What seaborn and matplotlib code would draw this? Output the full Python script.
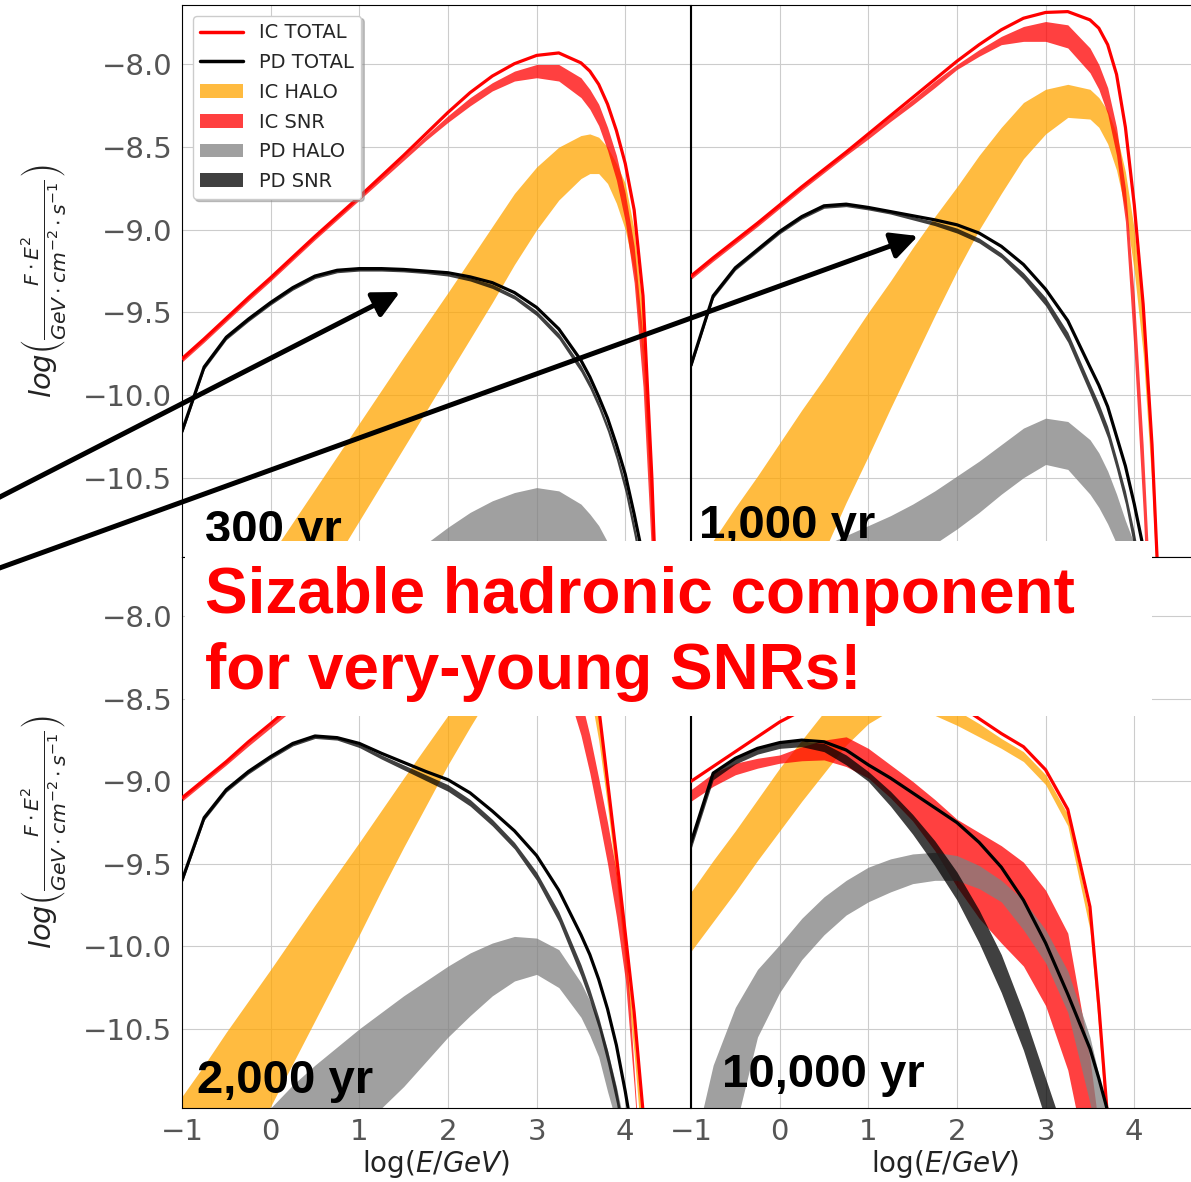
import matplotlib
matplotlib.use("Agg")
import matplotlib.pyplot as plt
import seaborn as sns
from matplotlib.patches import Rectangle, Patch, FancyArrowPatch
from matplotlib.lines import Line2D

# ---------------- data (log10 E/GeV grid, log10 of E^2 F) ----------------
log_e = [-1, -0.75, -0.5, -0.25, 0,
         0.25, 0.5, 0.75, 1, 1.25,
         1.5, 1.75, 2, 2.25, 2.5,
         2.75, 3, 3.25, 3.5, 3.6,
         3.7, 3.8, 3.9, 4.0, 4.1,
         4.2, 4.3, 4.4, 4.5]

# 300 yr
ic_total_300 = [-9.78, -9.66, -9.535, -9.41, -9.29,
                -9.165, -9.04, -8.92, -8.80, -8.675,
                -8.55, -8.42, -8.29, -8.17, -8.07,
                -7.995, -7.945, -7.93, -7.99, -8.04,
                -8.12, -8.24, -8.40, -8.60, -8.88,
                -9.40, -10.50, -12.0, -13.0]
ic_snr_hi_300 = [-9.78, -9.66, -9.535, -9.41, -9.29,
                 -9.165, -9.04, -8.92, -8.80, -8.675,
                 -8.555, -8.43, -8.31, -8.20, -8.11,
                 -8.04, -8.00, -8.00, -8.08, -8.15,
                 -8.24, -8.38, -8.55, -8.78, -9.10,
                 -9.65, -10.6, -12.0, -13.0]
ic_snr_lo_300 = [-9.80, -9.68, -9.555, -9.43, -9.31,
                 -9.185, -9.06, -8.94, -8.82, -8.70,
                 -8.58, -8.46, -8.35, -8.25, -8.16,
                 -8.10, -8.08, -8.10, -8.20, -8.27,
                 -8.37, -8.52, -8.70, -8.95, -9.32,
                 -9.95, -11.0, -12.5, -13.0]
ic_halo_hi_300 = [-11.77, -11.57, -11.37, -11.17, -10.97,
                  -10.77, -10.57, -10.37, -10.17, -9.97,
                  -9.77, -9.575, -9.38, -9.18, -8.98,
                  -8.78, -8.62, -8.50, -8.43, -8.42,
                  -8.44, -8.50, -8.60, -8.72, -9.00,
                  -9.50, -10.5, -12.0, -13.0]
ic_halo_lo_300 = [-12.52, -12.30, -12.08, -11.86, -11.64,
                  -11.42, -11.20, -10.98, -10.76, -10.54,
                  -10.32, -10.10, -9.88, -9.66, -9.44,
                  -9.21, -9.00, -8.82, -8.69, -8.66,
                  -8.66, -8.72, -8.84, -9.00, -9.25,
                  -9.80, -10.8, -12.2, -13.0]
pd_total_300 = [-10.22, -9.83, -9.65, -9.54, -9.44,
                -9.35, -9.28, -9.245, -9.235, -9.235,
                -9.24, -9.25, -9.26, -9.285, -9.32,
                -9.38, -9.47, -9.60, -9.79, -9.89,
                -10.01, -10.14, -10.30, -10.48, -10.72,
                -10.98, -11.5, -12.0, -13.0]
pd_snr_hi_300 = [-10.22, -9.83, -9.65, -9.54, -9.44,
                 -9.35, -9.28, -9.245, -9.235, -9.235,
                 -9.24, -9.25, -9.265, -9.29, -9.33,
                 -9.395, -9.49, -9.625, -9.82, -9.92,
                 -10.04, -10.18, -10.34, -10.53, -10.78,
                 -11.05, -11.6, -12.1, -13.0]
pd_snr_lo_300 = [-10.235, -9.845, -9.665, -9.555, -9.455,
                 -9.365, -9.295, -9.26, -9.25, -9.25,
                 -9.255, -9.265, -9.28, -9.31, -9.355,
                 -9.42, -9.52, -9.66, -9.86, -9.96,
                 -10.08, -10.22, -10.39, -10.59, -10.85,
                 -11.14, -11.7, -12.2, -13.0]
pd_halo_hi_300 = [-12.5, -12.35, -12.2, -12.05, -11.9,
                  -11.72, -11.55, -11.4, -11.25, -11.13,
                  -11.02, -10.9, -10.8, -10.71, -10.64,
                  -10.59, -10.56, -10.58, -10.66, -10.72,
                  -10.79, -10.89, -11.0, -11.15, -11.35,
                  -11.6, -12.0, -12.5, -13.0]
pd_halo_lo_300 = [-13.0, -12.8, -12.6, -12.4, -12.25,
                  -12.07, -11.9, -11.75, -11.6, -11.49,
                  -11.38, -11.26, -11.15, -11.06, -10.98,
                  -10.92, -10.88, -10.9, -11.0, -11.06,
                  -11.14, -11.24, -11.36, -11.5, -11.7,
                  -12.0, -12.4, -12.8, -13.0]

# 1,000 yr
ic_total_1000 = [-9.28, -9.17, -9.065, -8.96, -8.85,
                 -8.74, -8.635, -8.53, -8.42, -8.31,
                 -8.20, -8.09, -7.98, -7.88, -7.79,
                 -7.72, -7.685, -7.68, -7.73, -7.78,
                 -7.88, -8.06, -8.38, -8.85, -9.45,
                 -10.3, -11.5, -12.5, -13.0]
ic_snr_hi_1000 = [-9.28, -9.17, -9.065, -8.96, -8.85,
                  -8.74, -8.635, -8.53, -8.425, -8.315,
                  -8.21, -8.10, -8.00, -7.91, -7.83,
                  -7.77, -7.74, -7.76, -7.90, -8.00,
                  -8.14, -8.38, -8.75, -9.40, -10.30,
                  -11.4, -12.5, -13.0, -13.0]
ic_snr_lo_1000 = [-9.30, -9.19, -9.085, -8.98, -8.87,
                  -8.76, -8.655, -8.55, -8.45, -8.345,
                  -8.245, -8.14, -8.03, -7.95, -7.88,
                  -7.86, -7.86, -7.90, -8.05, -8.15,
                  -8.30, -8.55, -8.95, -9.75, -10.7,
                  -11.8, -13.0, -13.0, -13.0]
ic_halo_hi_1000 = [-11.08, -10.88, -10.68, -10.49, -10.29,
                   -10.09, -9.90, -9.70, -9.50, -9.31,
                   -9.11, -8.92, -8.74, -8.55, -8.38,
                   -8.23, -8.15, -8.12, -8.15, -8.20,
                   -8.28, -8.42, -8.65, -9.00, -9.50,
                   -10.3, -11.5, -12.5, -13.0]
ic_halo_lo_1000 = [-12.70, -12.40, -12.10, -11.82, -11.55,
                   -11.25, -10.95, -10.65, -10.37, -10.08,
                   -9.80, -9.52, -9.25, -9.00, -8.78,
                   -8.57, -8.42, -8.32, -8.33, -8.38,
                   -8.48, -8.64, -8.88, -9.25, -9.75,
                   -10.55, -11.7, -12.7, -13.0]
pd_total_1000 = [-9.82, -9.40, -9.23, -9.12, -9.01,
                 -8.92, -8.855, -8.845, -8.865, -8.89,
                 -8.915, -8.94, -8.97, -9.02, -9.10,
                 -9.21, -9.36, -9.55, -9.83, -9.94,
                 -10.07, -10.25, -10.43, -10.66, -10.92,
                 -11.3, -11.8, -12.5, -13.0]
pd_snr_hi_1000 = [-9.82, -9.40, -9.23, -9.12, -9.01,
                  -8.92, -8.855, -8.845, -8.865, -8.89,
                  -8.92, -8.95, -8.99, -9.05, -9.14,
                  -9.26, -9.41, -9.62, -9.93, -10.05,
                  -10.19, -10.38, -10.58, -10.83, -11.12,
                  -11.6, -12.1, -13.0, -13.0]
pd_snr_lo_1000 = [-9.835, -9.415, -9.245, -9.135, -9.025,
                  -8.935, -8.87, -8.86, -8.88, -8.905,
                  -8.94, -8.975, -9.02, -9.08, -9.17,
                  -9.30, -9.46, -9.68, -9.99, -10.12,
                  -10.26, -10.45, -10.66, -10.93, -11.23,
                  -11.7, -12.2, -13.0, -13.0]
pd_halo_hi_1000 = [-11.80, -11.62, -11.45, -11.28, -11.12,
                   -11.00, -10.91, -10.85, -10.79, -10.73,
                   -10.66, -10.58, -10.49, -10.40, -10.30,
                   -10.20, -10.14, -10.16, -10.27, -10.35,
                   -10.46, -10.60, -10.76, -10.90, -11.10,
                   -11.4, -11.8, -12.5, -13.0]
pd_halo_lo_1000 = [-12.50, -12.30, -12.10, -11.92, -11.76,
                   -11.60, -11.42, -11.30, -11.20, -11.10,
                   -10.99, -10.90, -10.81, -10.71, -10.60,
                   -10.50, -10.42, -10.45, -10.60, -10.68,
                   -10.78, -10.90, -11.05, -11.20, -11.40,
                   -11.7, -12.1, -12.6, -13.0]

# 2,000 yr
ic_total_2000 = [-9.10, -8.99, -8.88, -8.76, -8.65,
                 -8.535, -8.42, -8.31, -8.20, -8.09,
                 -7.99, -7.90, -7.82, -7.76, -7.71,
                 -7.68, -7.68, -7.75, -7.98, -8.15,
                 -8.55, -9.00, -9.45, -9.92, -10.40,
                 -11.0, -11.8, -13.0, -13.0]
ic_snr_hi_2000 = [-9.10, -8.99, -8.88, -8.765, -8.655,
                  -8.54, -8.43, -8.325, -8.22, -8.12,
                  -8.03, -7.96, -7.90, -7.85, -7.82,
                  -7.83, -7.90, -8.08, -8.50, -8.72,
                  -8.98, -9.25, -9.55, -9.92, -10.75,
                  -11.6, -12.5, -13.0, -13.0]
ic_snr_lo_2000 = [-9.12, -9.01, -8.90, -8.785, -8.675,
                  -8.565, -8.455, -8.355, -8.255, -8.165,
                  -8.09, -8.03, -7.98, -7.95, -7.95,
                  -8.00, -8.10, -8.28, -8.72, -8.95,
                  -9.22, -9.50, -9.82, -10.20, -10.85,
                  -11.6, -12.5, -13.0, -13.0]
ic_halo_hi_2000 = [-10.91, -10.72, -10.52, -10.33, -10.14,
                   -9.945, -9.75, -9.56, -9.37, -9.175,
                   -8.98, -8.79, -8.60, -8.42, -8.25,
                   -8.09, -7.97, -7.90, -8.05, -8.25,
                   -8.60, -9.03, -9.50, -9.98, -10.50,
                   -11.1, -12.0, -13.0, -13.0]
ic_halo_lo_2000 = [-12.00, -11.75, -11.50, -11.23, -10.97,
                   -10.71, -10.45, -10.19, -9.93, -9.66,
                   -9.40, -9.15, -8.90, -8.67, -8.45,
                   -8.28, -8.16, -8.10, -8.25, -8.45,
                   -8.75, -9.15, -9.60, -10.10, -10.65,
                   -11.3, -12.2, -13.0, -13.0]
pd_total_2000 = [-9.60, -9.22, -9.05, -8.94, -8.85,
                 -8.77, -8.725, -8.735, -8.77, -8.83,
                 -8.885, -8.94, -8.99, -9.07, -9.18,
                 -9.30, -9.45, -9.66, -9.93, -10.05,
                 -10.20, -10.38, -10.60, -10.88, -11.20,
                 -11.6, -12.1, -13.0, -13.0]
pd_snr_hi_2000 = [-9.60, -9.22, -9.05, -8.94, -8.85,
                  -8.77, -8.725, -8.735, -8.775, -8.84,
                  -8.90, -8.96, -9.02, -9.11, -9.23,
                  -9.37, -9.55, -9.79, -10.11, -10.26,
                  -10.43, -10.63, -10.86, -11.15, -11.5,
                  -12.0, -12.5, -13.0, -13.0]
pd_snr_lo_2000 = [-9.615, -9.235, -9.065, -8.955, -8.865,
                  -8.785, -8.74, -8.75, -8.795, -8.865,
                  -8.93, -8.995, -9.06, -9.15, -9.27,
                  -9.41, -9.60, -9.85, -10.18, -10.33,
                  -10.50, -10.71, -10.95, -11.25, -11.6,
                  -12.1, -12.6, -13.0, -13.0]
pd_halo_hi_2000 = [-11.80, -11.60, -11.40, -11.19, -10.98,
                   -10.84, -10.72, -10.61, -10.50, -10.40,
                   -10.30, -10.21, -10.12, -10.04, -9.98,
                   -9.94, -9.95, -10.02, -10.22, -10.33,
                   -10.45, -10.63, -10.85, -11.10, -11.35,
                   -11.6, -12.0, -12.5, -13.0]
pd_halo_lo_2000 = [-12.80, -12.50, -12.20, -11.95, -11.70,
                   -11.50, -11.30, -11.20, -11.10, -10.98,
                   -10.85, -10.70, -10.55, -10.42, -10.30,
                   -10.21, -10.17, -10.25, -10.43, -10.54,
                   -10.67, -10.88, -11.07, -11.25, -11.50,
                   -11.8, -12.3, -12.8, -13.0]

# 10,000 yr
ic_total_10000 = [-9.00, -8.91, -8.82, -8.73, -8.64,
                  -8.57, -8.50, -8.43, -8.36, -8.33,
                  -8.36, -8.44, -8.53, -8.62, -8.71,
                  -8.79, -8.93, -9.17, -9.76, -10.36,
                  -11.05, -11.8, -12.5, -13.0, -13.0,
                  -13.0, -13.0, -13.0, -13.0]
ic_snr_hi_10000 = [-9.05, -8.95, -8.89, -8.86, -8.84,
                   -8.79, -8.75, -8.73, -8.80, -8.90,
                   -9.00, -9.11, -9.23, -9.31, -9.39,
                   -9.49, -9.66, -9.92, -10.68, -11.1,
                   -11.6, -12.3, -13.0, -13.0, -13.0,
                   -13.0, -13.0, -13.0, -13.0]
ic_snr_lo_10000 = [-9.12, -9.03, -8.96, -8.92, -8.89,
                   -8.875, -8.87, -8.91, -8.98, -9.10,
                   -9.24, -9.42, -9.64, -9.83, -9.98,
                   -10.12, -10.36, -10.75, -11.4, -11.9,
                   -12.5, -13.0, -13.0, -13.0, -13.0,
                   -13.0, -13.0, -13.0, -13.0]
ic_halo_hi_10000 = [-9.67, -9.48, -9.30, -9.11, -8.92,
                    -8.75, -8.58, -8.46, -8.40, -8.37,
                    -8.40, -8.48, -8.57, -8.65, -8.74,
                    -8.82, -8.96, -9.20, -9.82, -10.42,
                    -11.1, -11.9, -12.6, -13.0, -13.0,
                    -13.0, -13.0, -13.0, -13.0]
ic_halo_lo_10000 = [-10.03, -9.85, -9.67, -9.48, -9.30,
                    -9.12, -8.95, -8.78, -8.65, -8.57,
                    -8.56, -8.60, -8.66, -8.73, -8.80,
                    -8.88, -9.02, -9.27, -9.90, -10.5,
                    -11.2, -12.0, -12.7, -13.0, -13.0,
                    -13.0, -13.0, -13.0, -13.0]
pd_total_10000 = [-9.37, -8.95, -8.86, -8.80, -8.765,
                  -8.75, -8.76, -8.81, -8.90, -8.98,
                  -9.07, -9.16, -9.25, -9.37, -9.52,
                  -9.72, -9.98, -10.29, -10.62, -10.80,
                  -11.0, -11.3, -11.6, -12.0, -12.5,
                  -13.0, -13.0, -13.0, -13.0]
pd_snr_hi_10000 = [-9.37, -8.95, -8.86, -8.80, -8.765,
                   -8.755, -8.77, -8.84, -8.94, -9.06,
                   -9.20, -9.36, -9.55, -9.78, -10.05,
                   -10.40, -10.80, -11.20, -11.70, -11.9,
                   -12.1, -12.3, -12.6, -13.0, -13.0,
                   -13.0, -13.0, -13.0, -13.0]
pd_snr_lo_10000 = [-9.41, -8.99, -8.895, -8.835, -8.80,
                   -8.79, -8.82, -8.90, -9.00, -9.15,
                   -9.32, -9.51, -9.72, -9.98, -10.28,
                   -10.63, -11.05, -11.50, -12.0, -12.2,
                   -12.4, -12.6, -12.8, -13.0, -13.0,
                   -13.0, -13.0, -13.0, -13.0]
pd_halo_hi_10000 = [-11.30, -10.72, -10.37, -10.14, -9.99,
                    -9.83, -9.70, -9.60, -9.52, -9.47,
                    -9.44, -9.43, -9.45, -9.51, -9.60,
                    -9.72, -9.90, -10.15, -10.55, -10.78,
                    -11.05, -11.35, -11.7, -12.0, -12.5,
                    -13.0, -13.0, -13.0, -13.0]
pd_halo_lo_10000 = [-12.20, -11.70, -11.10, -10.55, -10.28,
                    -10.08, -9.93, -9.81, -9.73, -9.67,
                    -9.62, -9.60, -9.60, -9.65, -9.73,
                    -9.90, -10.10, -10.40, -10.95, -11.2,
                    -11.5, -11.8, -12.1, -12.4, -12.7,
                    -13.0, -13.0, -13.0, -13.0]

panel_ages = ["300 yr", "1,000 yr", "2,000 yr", "10,000 yr"]
series_names = ["IC TOTAL", "PD TOTAL", "IC HALO", "IC SNR", "PD HALO", "PD SNR"]
x_ticks = [-1, 0, 1, 2, 3, 4]
y_ticks = [-10.5, -10.0, -9.5, -9.0, -8.5, -8.0]
headline = ["Sizable hadronic component", "for very-young SNRs!"]

# ---------------- style ----------------
sns.set_style("whitegrid", {"axes.edgecolor": "black", "grid.color": "#cccccc",
                            "axes.linewidth": 1.8, "grid.linewidth": 1.4})
plt.rcParams["font.family"] = ["DejaVu Sans"]
plt.rcParams["mathtext.fontset"] = "dejavusans"

W, H = 1191, 1182
fig = plt.figure(figsize=(W / 100, H / 100), dpi=100)

aw = 508 / W
pos = [
    (182 / W, (H - 557) / H, aw, 552 / H),   # top-left
    (691 / W, (H - 557) / H, aw, 552 / H),   # top-right
    (182 / W, (H - 1108) / H, aw, 551 / H),  # bottom-left
    (691 / W, (H - 1108) / H, aw, 551 / H),  # bottom-right
]

panels = [
    (ic_total_300, ic_snr_lo_300, ic_snr_hi_300, ic_halo_lo_300, ic_halo_hi_300,
     pd_total_300, pd_snr_lo_300, pd_snr_hi_300, pd_halo_lo_300, pd_halo_hi_300),
    (ic_total_1000, ic_snr_lo_1000, ic_snr_hi_1000, ic_halo_lo_1000, ic_halo_hi_1000,
     pd_total_1000, pd_snr_lo_1000, pd_snr_hi_1000, pd_halo_lo_1000, pd_halo_hi_1000),
    (ic_total_2000, ic_snr_lo_2000, ic_snr_hi_2000, ic_halo_lo_2000, ic_halo_hi_2000,
     pd_total_2000, pd_snr_lo_2000, pd_snr_hi_2000, pd_halo_lo_2000, pd_halo_hi_2000),
    (ic_total_10000, ic_snr_lo_10000, ic_snr_hi_10000, ic_halo_lo_10000, ic_halo_hi_10000,
     pd_total_10000, pd_snr_lo_10000, pd_snr_hi_10000, pd_halo_lo_10000, pd_halo_hi_10000),
]

age_pos = [(0.045, 0.025), (0.016, 0.034), (0.030, 0.027), (0.062, 0.038)]
ylabel = r"$log\left(\frac{F\cdot E^2}{GeV\cdot cm^{-2}\cdot s^{-1}}\right)$"

for i, (p, d) in enumerate(zip(pos, panels)):
    ax = fig.add_axes(p)
    (ic_tot, ic_snr_lo, ic_snr_hi, ic_halo_lo, ic_halo_hi,
     pd_tot, pd_snr_lo, pd_snr_hi, pd_halo_lo, pd_halo_hi) = d
    ax.fill_between(log_e, ic_halo_lo, ic_halo_hi, color="orange", alpha=0.75, lw=0, zorder=2)
    ax.fill_between(log_e, ic_snr_lo, ic_snr_hi, color="red", alpha=0.75, lw=0, zorder=2)
    ax.fill_between(log_e, pd_halo_lo, pd_halo_hi, color="gray", alpha=0.75, lw=0, zorder=2)
    ax.fill_between(log_e, pd_snr_lo, pd_snr_hi, color="black", alpha=0.75, lw=0, zorder=2)
    sns.lineplot(x=log_e, y=ic_tot, ax=ax, color="red", linewidth=2.3, estimator=None,
                 sort=False, legend=False, zorder=3)
    sns.lineplot(x=log_e, y=pd_tot, ax=ax, color="black", linewidth=2.3, estimator=None,
                 sort=False, legend=False, zorder=3)

    ax.set_xlim(-1, 4.73)
    ax.set_ylim(-10.98, -7.64)
    ax.set_xticks(x_ticks)
    ax.set_yticks(y_ticks)
    ax.tick_params(axis="both", length=0, labelsize=21, labelcolor="#555555", pad=7)
    ax.set_xlabel("")
    ax.set_ylabel("")
    if i in (0, 1):
        ax.tick_params(labelbottom=False)
    else:
        ax.set_xlabel(r"log($E/GeV$)", fontsize=20, color="#222222", labelpad=2)
    if i in (1, 3):
        ax.tick_params(labelleft=False)
    else:
        ax.set_ylabel(ylabel, fontsize=21, color="#222222")
        ax.yaxis.set_label_coords(-0.222, 0.5)

    ax.text(age_pos[i][0], age_pos[i][1], panel_ages[i], transform=ax.transAxes,
            fontsize=34, fontweight="bold", family=["Liberation Sans", "DejaVu Sans"],
            ha="left", va="baseline", color="black", zorder=6)

    if i == 0:
        handles = [
            Line2D([], [], color="red", lw=2.5),
            Line2D([], [], color="black", lw=2.5),
            Patch(facecolor="orange", alpha=0.75, lw=0),
            Patch(facecolor="red", alpha=0.75, lw=0),
            Patch(facecolor="gray", alpha=0.75, lw=0),
            Patch(facecolor="black", alpha=0.75, lw=0),
        ]
        leg = ax.legend(handles, series_names, loc="upper left", fontsize=14,
                        frameon=True, fancybox=True, shadow={"color": "0.55", "alpha": 0.5},
                        framealpha=1, edgecolor="#cccccc", handlelength=2.2,
                        borderaxespad=0.55, labelspacing=0.55)
        leg.set_zorder(10)

# white annotation box with red headline
fig.add_artist(Rectangle((185 / W, (H - 716) / H), (1152 - 185) / W, 175 / H,
                         transform=fig.transFigure, facecolor="white",
                         edgecolor="none", zorder=20))
fig.text(205 / W, (H - 613) / H, headline[0], color="red", fontsize=46,
         fontweight="bold", family=["Liberation Sans", "DejaVu Sans"],
         va="baseline", ha="left", zorder=21)
fig.text(205 / W, (H - 689) / H, headline[1], color="red", fontsize=46,
         fontweight="bold", family=["Liberation Sans", "DejaVu Sans"],
         va="baseline", ha="left", zorder=21)

# arrows
for (x0, y0), (x1, y1) in [((-6, 500), (400, 292)), ((-6, 570), (918, 236))]:
    fig.add_artist(FancyArrowPatch((x0 / W, (H - y0) / H), (x1 / W, (H - y1) / H),
                                   transform=fig.transFigure, arrowstyle="-|>",
                                   mutation_scale=40, lw=3.6, color="black",
                                   shrinkA=0, shrinkB=0, zorder=22))

fig.savefig("out.png", dpi=100)
